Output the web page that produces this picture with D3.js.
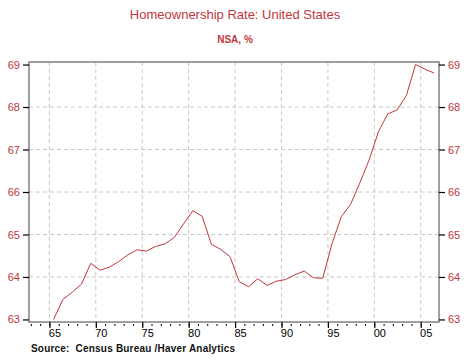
<!DOCTYPE html>
<html><head><meta charset="utf-8">
<script src="https://cdn.jsdelivr.net/npm/d3@7"></script>
<style>body{margin:0;background:#fff;}svg{display:block;}</style>
</head><body><svg id="c" width="469" height="360"></svg>
<script>
const years = d3.range(1965, 2007);
const rate = [63.0,63.47,63.64,63.83,64.32,64.16,64.23,64.36,64.52,64.64,64.61,64.72,64.78,64.93,65.25,65.56,65.43,64.77,64.65,64.48,63.89,63.77,63.96,63.80,63.90,63.94,64.05,64.14,63.98,63.97,64.79,65.42,65.71,66.22,66.76,67.42,67.84,67.93,68.27,69.0,68.89,68.80];
const yTicks = [63,64,65,66,67,68,69];
const xMajor = [1965,1970,1975,1980,1985,1990,1995,2000,2005];
const xLabels = ["65","70","75","80","85","90","95","00","05"];
const title = "Homeownership Rate: United States";
const subtitle = "NSA, %";
const source = "Source:  Census Bureau /Haver Analytics";

const red = "#c0383c";
const svg = d3.select("#c");
const L = 29, R = 439, T = 62, B = 322;
const x = d3.scaleLinear().domain([1962.8, 2006.97]).range([L, R]);
const y = d3.scaleLinear().domain([62.94, 69.06]).range([B, T]);

// grid
const g = svg.append("g");
g.selectAll("line.h").data(yTicks.filter(v => v > 63 && v < 69)).enter().append("line")
  .attr("x1", L).attr("x2", R).attr("y1", d => y(d)).attr("y2", d => y(d))
  .attr("stroke", "#c8c8c8").attr("stroke-dasharray", "4,3");
g.selectAll("line.v").data(xMajor).enter().append("line")
  .attr("x1", d => x(d)).attr("x2", d => x(d)).attr("y1", T).attr("y2", B)
  .attr("stroke", "#c8c8c8").attr("stroke-dasharray", "4,3");

// frame
svg.append("rect").attr("x", L).attr("y", T).attr("width", R - L).attr("height", B - T)
  .attr("fill", "none").attr("stroke", "#808080").attr("stroke-width", 1.5);

// left axis
const la = svg.append("g").attr("transform", `translate(${L},0)`)
  .call(d3.axisLeft(y).tickValues(yTicks).tickSize(6).tickPadding(3).tickFormat(d3.format("d")));
const ra = svg.append("g").attr("transform", `translate(${R},0)`)
  .call(d3.axisRight(y).tickValues(yTicks).tickSize(6).tickPadding(3).tickFormat(d3.format("d")));
[la, ra].forEach(a => {
  a.select(".domain").remove();
  a.selectAll(".tick line").attr("stroke", "#000").attr("stroke-width", 1.2);
  a.selectAll("text").attr("fill", red).attr("font-family", "Arial, Liberation Sans, sans-serif").attr("font-size", 11);
});

// x axis minor + major ticks
const xa = svg.append("g").attr("transform", `translate(0,${B})`);
xa.call(d3.axisBottom(x).tickValues(d3.range(1963, 2007)).tickSize(3).tickFormat(""));
xa.select(".domain").remove();
xa.selectAll(".tick line").attr("stroke", "#000").attr("y1", 2).attr("y2", 4);
const xb = svg.append("g").attr("transform", `translate(0,${B})`);
xb.call(d3.axisBottom(x).tickValues(xMajor).tickSize(6).tickFormat((d, i) => xLabels[i]));
xb.select(".domain").remove();
xb.selectAll(".tick line").attr("stroke", "#000").attr("stroke-width", 1.2);
xb.selectAll("text").attr("x", 5).attr("dy", "0.71em").attr("y", 7)
  .attr("fill", "#000").attr("font-family", "Arial, Liberation Sans, sans-serif").attr("font-size", 11);

// line
const line = d3.line().x((d, i) => x(years[i] + 0.45)).y(d => y(d));
svg.append("path").datum(rate).attr("d", line).attr("fill", "none").attr("stroke", red).attr("stroke-width", 1);

// texts
svg.append("text").attr("x", 235).attr("y", 19).attr("text-anchor", "middle")
  .attr("fill", red).attr("font-family", "Arial, Liberation Sans, sans-serif").attr("font-size", 13).text(title);
svg.append("text").attr("x", 235).attr("y", 43).attr("text-anchor", "middle")
  .attr("fill", red).attr("font-family", "Arial, Liberation Sans, sans-serif").attr("font-size", 10).attr("font-weight", "bold").text(subtitle);
svg.append("text").attr("x", 31).attr("y", 352)
  .attr("fill", "#111").attr("font-family", "Arial, Liberation Sans, sans-serif").attr("font-size", 10).attr("font-weight", "bold")
  .attr("letter-spacing", 0.2).style("white-space", "pre").text(source);
</script></body></html>
